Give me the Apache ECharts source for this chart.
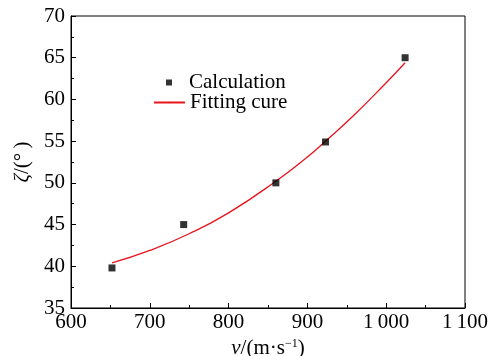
<!DOCTYPE html>
<html><head><meta charset="utf-8">
<script src="https://cdn.jsdelivr.net/npm/echarts@6/dist/echarts.min.js"></script>
<style>html,body{margin:0;padding:0;background:#fff}#c{width:490px;height:356px}</style>
</head><body><div id="c"></div>
<script>
// Data
var calcV = [652, 743, 860, 923, 1024];
var calcZeta = [39.8, 45.0, 50.0, 54.9, 65.0];
var fitV = [652, 700, 750, 800, 860, 900, 923, 960, 1000, 1024];
var fitZeta = [40.4, 41.9, 43.9, 46.4, 50.2, 53.1, 55.0, 58.2, 62.0, 64.4];
var xTickValues = [600, 700, 800, 900, 1000, 1100];
var xTickLabels = ['600', '700', '800', '900', '1\u2009000', '1\u2009100'];

var font = 'Liberation Serif';
var fs = 21;
var chart = echarts.init(document.getElementById('c'), null, {renderer: 'canvas'});
chart.setOption({
  animation: false,
  backgroundColor: '#fff',
  grid: {left: 71, right: 25, top: 16, bottom: 48, show: true, borderColor: '#000', borderWidth: 1,
         containLabel: false, outerBoundsMode: 'none'},
  legend: [
    {data: ['Calculation'], left: 166, top: 72, padding: 0, itemWidth: 6, itemHeight: 6,
     textStyle: {fontFamily: font, fontSize: fs, color: '#000', padding: [0, 0, 0, 12]}},
    {data: ['Fitting cure'], left: 153, top: 92, padding: 0, itemWidth: 31, itemHeight: 2,
     textStyle: {fontFamily: font, fontSize: fs, color: '#000'}}
  ],
  xAxis: {
    type: 'value', min: 600, max: 1100, interval: 100,
    name: '{i|v}/(m·s{s|\u22121})', nameLocation: 'middle', nameGap: 23,
    nameTextStyle: {fontFamily: font, fontSize: fs, color: '#000',
      rich: {i: {fontFamily: font, fontSize: fs, fontStyle: 'italic', color: '#000'},
             s: {fontFamily: font, fontSize: 12, color: '#000', verticalAlign: 'top', padding: [0, 0, 8, 0]}}},
    axisLine: {show: true, lineStyle: {color: '#000', width: 1}},
    axisTick: {show: true, inside: true, length: 5, lineStyle: {color: '#000'}},
    minorTick: {show: true, splitNumber: 2, length: 3, lineStyle: {color: '#000'}},
    splitLine: {show: false},
    axisLabel: {fontFamily: font, fontSize: fs, color: '#000', margin: 4,
      formatter: function (v) { var k = xTickValues.indexOf(v); return k >= 0 ? xTickLabels[k] : ''; }}
  },
  yAxis: {
    type: 'value', min: 35, max: 70, interval: 5,
    name: '{i|ζ}/(°\u2009)', nameLocation: 'middle', nameGap: 38,
    nameTextStyle: {fontFamily: font, fontSize: fs, color: '#000',
      rich: {i: {fontFamily: font, fontSize: fs, fontStyle: 'italic', color: '#000'}}},
    axisLine: {show: true, lineStyle: {color: '#000', width: 1}},
    axisTick: {show: true, inside: true, length: 5, lineStyle: {color: '#000'}},
    minorTick: {show: true, splitNumber: 2, length: 3, lineStyle: {color: '#000'}},
    splitLine: {show: false},
    axisLabel: {fontFamily: font, fontSize: fs, color: '#000', margin: 6}
  },
  series: [
    {name: 'Calculation', type: 'scatter', symbol: 'rect', symbolSize: 7,
     itemStyle: {color: '#000'}, z: 3,
     data: calcV.map(function (v, i) { return [v, calcZeta[i]]; })},
    {name: 'Fitting cure', type: 'line', smooth: true, symbol: 'none',
     lineStyle: {color: '#e8141c', width: 1.3}, itemStyle: {color: '#e8141c'},
     data: fitV.map(function (v, i) { return [v, fitZeta[i]]; })}
  ]
});
</script></body></html>
